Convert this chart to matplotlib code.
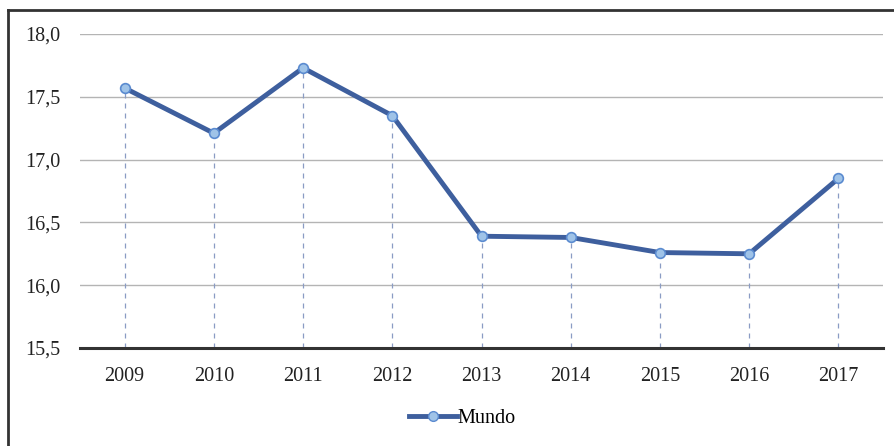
import numpy as np
import matplotlib.pyplot as plt
from matplotlib.lines import Line2D

plt.rcParams['font.family'] = ['Liberation Serif', 'DejaVu Serif']

# Series data
years = ['2009', '2010', '2011', '2012', '2013', '2014', '2015', '2016', '2017']
mundo = [17.57, 17.21, 17.73, 17.35, 16.39, 16.38, 16.26, 16.25, 16.85]
y_ticks = [15.5, 16.0, 16.5, 17.0, 17.5, 18.0]
y_labels = ['15,5', '16,0', '16,5', '17,0', '17,5', '18,0']

line_color = '#3e5f9e'
marker_face = '#9fc3e8'
drop_color = '#8a9cc4'

fig = plt.figure(figsize=(8.94, 4.46), dpi=100)
ax = fig.add_axes([80 / 894, 1 - 348 / 446, (883 - 80) / 894, (348 - 34) / 446])

x = np.arange(len(years))

# dashed drop lines from each point down to the axis
ax.vlines(x, 15.5, mundo, colors=drop_color, linestyles=(0, (4, 4)), linewidth=0.9, zorder=2)

ax.plot(x, mundo, color=line_color, linewidth=3.5, marker='o', markersize=7,
        markerfacecolor=marker_face, markeredgecolor='#5b8bd0', markeredgewidth=1.2,
        zorder=3, label='Mundo')

ax.set_xlim(-0.5, len(years) - 0.5)
ax.set_ylim(15.5, 18.0)
ax.set_yticks(y_ticks)
ax.set_yticklabels(y_labels)
ax.set_xticks(x)
ax.set_xticklabels(years)
ax.yaxis.grid(True, color='#b4b4b4', linewidth=1.0)
ax.set_axisbelow(True)

for side in ['top', 'right', 'left']:
    ax.spines[side].set_visible(False)
ax.spines['bottom'].set_color('#333333')
ax.spines['bottom'].set_linewidth(2.2)
ax.tick_params(axis='both', length=0, labelsize=14.5, colors='#222222')
ax.tick_params(axis='x', pad=14)
ax.tick_params(axis='y', pad=14)

handle = Line2D([0], [0], color=line_color, linewidth=3.5, marker='o', markersize=7,
                markerfacecolor=marker_face, markeredgecolor='#5b8bd0')
fig.legend([handle], ['Mundo'], loc='center', bbox_to_anchor=(462 / 894, 1 - 418 / 446),
           frameon=False, fontsize=14.5, handlelength=2.4, handletextpad=0.0)

# outer chart frame (left and top edges)
fig.add_artist(Line2D([8 / 894, 8 / 894], [0, 1 - 10 / 446], transform=fig.transFigure,
                      color='#333333', linewidth=2))
fig.add_artist(Line2D([8 / 894, 1], [1 - 10 / 446, 1 - 10 / 446], transform=fig.transFigure,
                      color='#333333', linewidth=2))

fig.savefig('out.png', dpi=100)
